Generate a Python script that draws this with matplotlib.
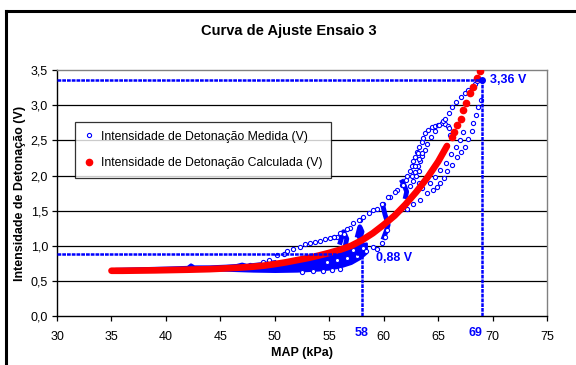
import matplotlib

matplotlib.use("Agg")
import matplotlib.pyplot as plt
from matplotlib.lines import Line2D
from matplotlib.ticker import FuncFormatter
from matplotlib.transforms import blended_transform_factory

plt.rcParams["font.family"] = ["Liberation Sans", "DejaVu Sans"]

BLUE = "#0000FF"
RED = "#FF0000"

# Calculated knock intensity (fitted curve), continuous part
calc_x = [35.0, 36.0, 37.0, 38.0, 39.0, 40.0, 41.0, 42.0, 43.0, 44.0, 45.0,
          46.0, 47.0, 48.0, 49.0, 50.0, 51.0, 52.0, 53.0, 54.0, 55.0, 56.0,
          57.0, 58.0, 59.0, 60.0, 61.0, 62.0, 63.0, 64.0, 65.0, 65.8]
calc_y = [0.645, 0.645, 0.647, 0.649, 0.651, 0.654, 0.657, 0.660, 0.664, 0.668, 0.675,
          0.683, 0.692, 0.703, 0.718, 0.740, 0.765, 0.795, 0.825, 0.860, 0.900, 0.945,
          1.00, 1.08, 1.18, 1.30, 1.43, 1.59, 1.77, 1.97, 2.20, 2.42]
# sparse calculated points at the top end
calc_top_x = [66.28, 66.46, 66.73, 67.10, 67.29, 67.56, 67.93, 68.20, 68.57, 68.85]
calc_top_y = [2.55, 2.62, 2.72, 2.81, 2.93, 3.03, 3.18, 3.26, 3.39, 3.48]

# Measured knock intensity: dense traces
band_top_x = [35.5, 38.0, 40.0, 42.0, 42.3, 42.6, 44.0, 45.5, 46.5, 47.0, 47.4, 49.0, 50.0]
band_top_y = [0.665, 0.675, 0.683, 0.693, 0.728, 0.700, 0.700, 0.710, 0.720, 0.740, 0.722, 0.750, 0.775]
band_x = [44.0, 46.0, 48.0, 50.0, 52.0, 54.0, 55.0, 56.0, 57.0, 57.8, 58.4]
band_lo = [0.660, 0.650, 0.640, 0.635, 0.640, 0.655, 0.670, 0.700, 0.750, 0.820, 0.900]
band_hi = [0.670, 0.685, 0.700, 0.730, 0.780, 0.840, 0.880, 0.930, 0.990, 1.030, 1.040]
blobs = [
    ([56.0, 56.3, 56.6, 56.4], [1.05, 1.20, 1.10, 0.95]),
    ([57.6, 57.8, 58.0, 57.7], [1.15, 1.27, 1.20, 1.05]),
    ([59.9, 60.1, 60.4, 60.2, 60.0], [1.58, 1.45, 1.30, 1.20, 1.12]),
    ([61.7, 61.9, 62.1, 62.0], [1.91, 1.85, 1.77, 1.70]),
]

# Measured knock intensity: individual samples
med_x = [
    # upper-left loop
    47.7, 48.95, 50.17, 51.1, 52.3, 53.2, 54.15, 55.07, 55.7, 56.9, 57.8, 58.6,
    59.35, 59.96, 60.58, 61.2, 61.65,
    61.8, 62.05, 62.17, 62.36, 62.57, 62.72, 62.88, 63.03, 63.25, 63.49, 63.64,
    63.8, 64.1, 64.41, 64.71, 65.02, 65.33, 65.63, 65.85, 66.0, 66.1,
    # second chain on the left
    62.9, 63.1, 63.3, 63.5, 63.75, 64.0, 64.3, 64.7, 65.1, 65.4,
    # outer upper branch
    65.63, 65.94, 66.25, 66.64, 67.1, 67.41, 67.77, 68.17, 68.39, 68.6,
    # right branch
    68.88, 68.69, 68.45, 68.23, 68.08, 67.77, 67.47, 67.1, 66.7, 66.25, 65.79,
    65.48, 65.17, 64.87, 64.5, 63.95, 63.3, 62.7, 62.1,
    # inner right chain
    67.3, 67.0, 66.6, 66.2, 65.7, 65.2, 64.7, 64.2,
    # middle loop
    63.1, 63.5, 63.2, 62.9, 63.2, 62.6, 63.0, 62.7, 62.4, 63.2, 63.5, 63.8,
    58.1, 59.05, 59.8, 60.4, 61.0, 60.27, 60.9, 61.5,
    # lower right loop
    57.2, 58.1, 59.0, 59.8, 60.1, 60.27, 60.2,
    54.77, 55.7, 56.6, 57.5, 58.4, 59.35,
    55.4, 56.0, 56.6, 57.2, 57.7, 55.7, 56.3, 56.9,
    # upper arc, left part
    49.5, 50.8, 51.7, 52.8, 53.7, 54.6, 55.4, 56.3,
    # lower arc under the fit
    52.5, 53.5, 54.4, 55.2, 56.0,
]
med_y = [
    0.73, 0.77, 0.87, 0.92, 0.99, 1.04, 1.07, 1.11, 1.13, 1.25, 1.37, 1.46,
    1.53, 1.60, 1.70, 1.79, 1.87,
    1.87, 1.93, 1.99, 2.06, 2.13, 2.20, 2.27, 2.34, 2.41, 2.48, 2.53,
    2.60, 2.65, 2.69, 2.71, 2.72, 2.74, 2.73, 2.71, 2.67, 2.58,
    2.05, 2.13, 2.20, 2.28, 2.36, 2.45, 2.55, 2.63, 2.72, 2.78,
    2.80, 2.89, 2.97, 3.05, 3.12, 3.17, 3.21, 3.26, 3.30, 3.34,
    3.08, 2.98, 2.86, 2.74, 2.63, 2.52, 2.41, 2.33, 2.27, 2.15, 2.06,
    1.96, 1.89, 1.84, 1.79, 1.75, 1.65, 1.60, 1.53,
    2.62, 2.50, 2.40, 2.30, 2.18, 2.08, 1.98, 1.90,
    2.32, 2.32, 2.24, 2.14, 2.07, 2.00, 1.99, 1.92, 1.85, 1.90, 1.82, 1.95,
    1.41, 1.51, 1.60, 1.70, 1.77, 1.37, 1.44, 1.51,
    0.94, 0.97, 0.99, 1.04, 1.13, 1.22, 1.34,
    0.77, 0.80, 0.82, 0.85, 0.92, 0.96,
    1.13, 1.18, 1.24, 1.32, 1.36, 0.92, 0.95, 0.99,
    0.80, 0.89, 0.95, 1.02, 1.06, 1.09, 1.13, 1.17,
    0.63, 0.635, 0.645, 0.655, 0.67,
]

# reference values marked on the chart
map_low, knock_low = 58, 0.88
map_high, knock_high = 69, 3.36

x_ticks = [30, 35, 40, 45, 50, 55, 60, 65, 70, 75]
y_ticks = [0.0, 0.5, 1.0, 1.5, 2.0, 2.5, 3.0, 3.5]

fig = plt.figure(figsize=(5.76, 3.65), dpi=100)
ax = fig.add_axes([0.099, 0.134, 0.851, 0.674])

# chart border (top and left edges)
fig.add_artist(Line2D([0.0104, 0.0104], [0.0, 0.970], transform=fig.transFigure,
                      color="black", lw=2.2, solid_capstyle="projecting"))
fig.add_artist(Line2D([0.0104, 1.0], [0.970, 0.970], transform=fig.transFigure,
                      color="black", lw=2.2, solid_capstyle="projecting"))

for yv in y_ticks[1:-1]:
    ax.axhline(yv, color="black", lw=0.9, zorder=1)

# measured series
ax.fill_between(band_x, band_lo, band_hi, color=BLUE, lw=1.5, edgecolor=BLUE, zorder=2)
ax.plot(band_top_x, band_top_y, color=BLUE, lw=2.2, zorder=2)
for bx, by in blobs:
    ax.plot(bx, by, color=BLUE, lw=3.5, zorder=2)
ax.plot(med_x, med_y, ls="none", marker="o", ms=3.0, mfc="white", mec=BLUE,
        mew=0.8, zorder=3)

# reference lines
ref_style = dict(color=BLUE, lw=1.8, ls=(0, (1.5, 0.4)), zorder=5)
ax.plot([30, map_high], [knock_high, knock_high], **ref_style)
ax.plot([map_high, map_high], [0, knock_high], **ref_style)
ax.plot([30, map_low], [knock_low, knock_low], **ref_style)
ax.plot([map_low, map_low], [0, knock_low], **ref_style)
ax.plot([map_high], [knock_high], ls="none", marker="o", ms=4, color=BLUE, zorder=5)

# calculated series
ax.plot(calc_x, calc_y, color=RED, lw=4.8, solid_capstyle="round", zorder=4)
ax.plot(calc_top_x, calc_top_y, ls="none", marker="o", ms=4.5, color=RED, zorder=4)

ax.text(map_high + 0.75, knock_high, "3,36 V", color=BLUE, fontsize=9,
        fontweight="bold", ha="left", va="center")
ax.text(map_low + 1.3, knock_low - 0.06, "0,88 V", color=BLUE, fontsize=9,
        fontweight="bold", ha="left", va="center")
trans = blended_transform_factory(ax.transData, ax.transAxes)
ax.text(map_low, -0.068, str(map_low), transform=trans, color=BLUE, fontsize=9,
        fontweight="bold", ha="center", va="center")
ax.text(map_high - 0.55, -0.068, str(map_high), transform=trans, color=BLUE,
        fontsize=9, fontweight="bold", ha="center", va="center")

ax.set_xlim(30, 75)
ax.set_ylim(0, 3.5)
ax.set_xticks(x_ticks)
ax.set_yticks(y_ticks)
ax.yaxis.set_major_formatter(FuncFormatter(lambda v, p: f"{v:.1f}".replace(".", ",")))
ax.tick_params(axis="both", direction="out", length=3.5, width=0.9, labelsize=9,
               color="black", pad=3)
ax.tick_params(axis="x", pad=7)
for side in ["left", "bottom"]:
    ax.spines[side].set_color("black")
    ax.spines[side].set_linewidth(1.0)
for side in ["top", "right"]:
    ax.spines[side].set_color("#808080")
    ax.spines[side].set_linewidth(1.0)

ax.set_xlabel("MAP (kPa)", fontsize=9, fontweight="bold", labelpad=3)
ax.set_ylabel("Intensidade de Detonação (V)", fontsize=9, fontweight="bold", labelpad=3)
fig.text(0.502, 0.915, "Curva de Ajuste Ensaio 3", fontsize=10.5, fontweight="bold",
         ha="center", va="center")

handles = [
    Line2D([], [], ls="none", marker="o", ms=3.0, mfc="white", mec=BLUE, mew=0.8),
    Line2D([], [], ls="none", marker="o", ms=4.5, color=RED),
]
leg = ax.legend(handles, ["Intensidade de Detonação Medida (V)",
                          "Intensidade de Detonação Calculada (V)"],
                loc="upper left", bbox_to_anchor=(0.037, 0.789), fontsize=8.8,
                frameon=True, fancybox=False, handlelength=0.8, handletextpad=0.6,
                labelspacing=1.2, borderpad=0.7, borderaxespad=0)
leg.get_frame().set_edgecolor("black")
leg.get_frame().set_linewidth(0.9)

fig.savefig("out.png", dpi=100)
